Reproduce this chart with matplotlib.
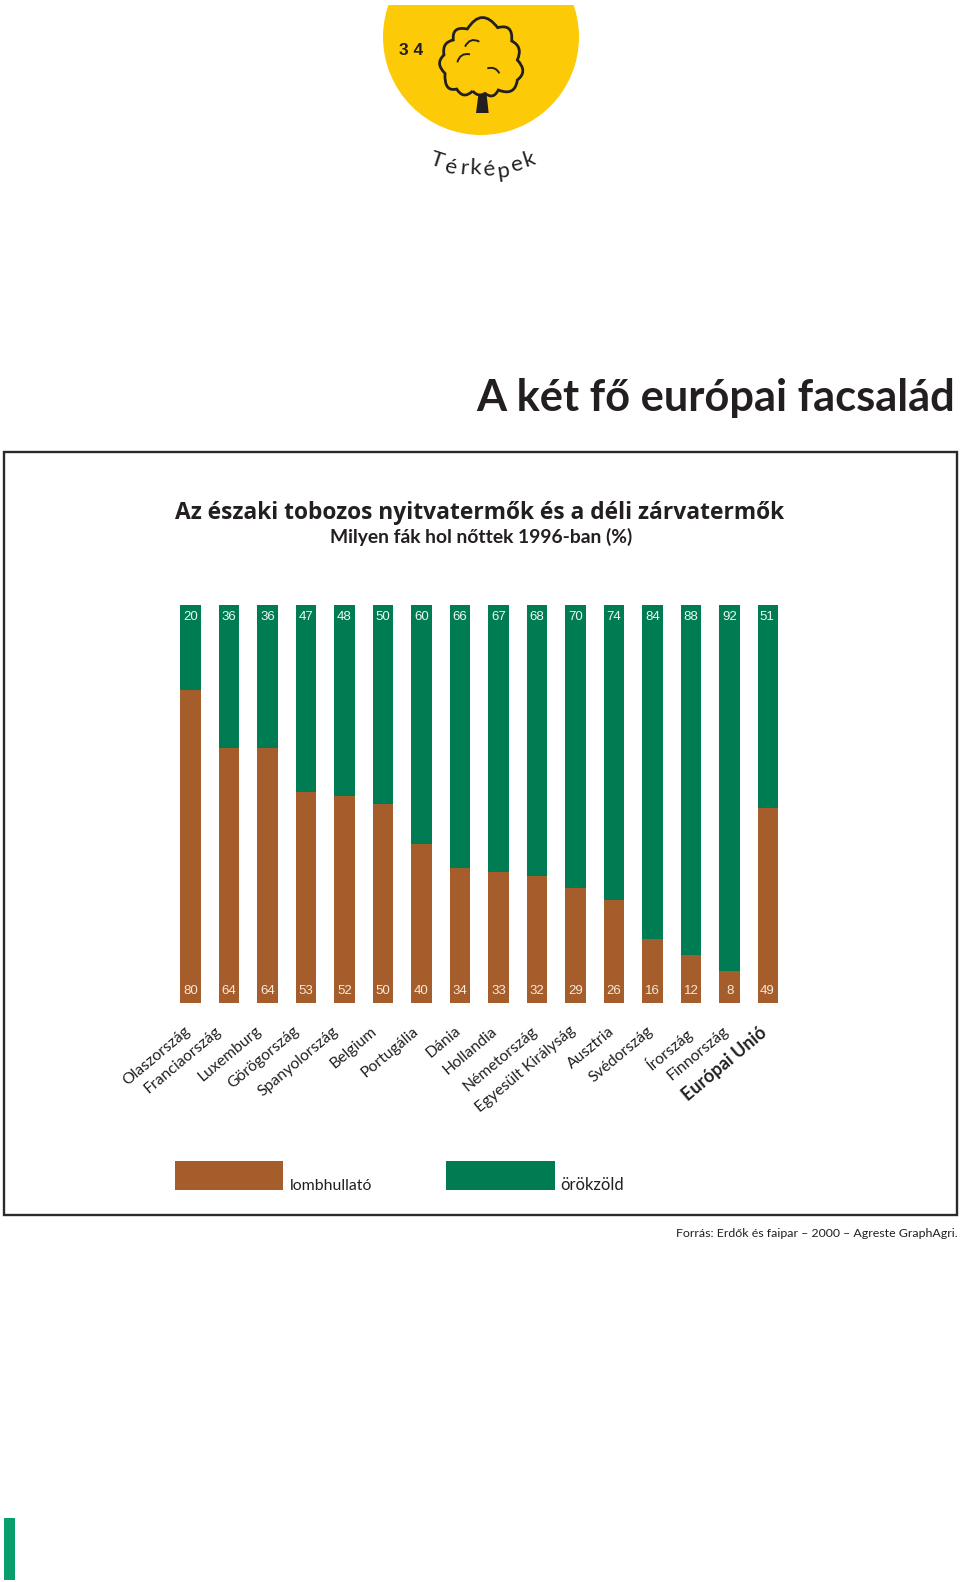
# import modules
import numpy as np
import matplotlib
matplotlib.use('Agg')
import matplotlib.pyplot as plt
from matplotlib.patches import Circle, PathPatch, Polygon, Rectangle
from matplotlib.path import Path
from matplotlib.transforms import ScaledTranslation

plt.rcParams['font.family'] = ['Lato', 'DejaVu Sans']

# chart values
countries = ['Olaszország', 'Franciaország', 'Luxemburg', 'Görögország', 'Spanyolország',
             'Belgium', 'Portugália', 'Dánia', 'Hollandia', 'Németország', 'Egyesült Királyság',
             'Ausztria', 'Svédország', 'Írország', 'Finnország', 'Európai Unió']
deciduous = [80, 64, 64, 53, 52, 50, 40, 34, 33, 32, 29, 26, 16, 12, 8, 49]
evergreen = [20, 36, 36, 47, 48, 50, 60, 66, 67, 68, 70, 74, 84, 88, 92, 51]
# height of the brown part as drawn in the picture (first bar is drawn short of its label)
deciduous_drawn = [78.6, 64, 64, 53, 52, 50, 40, 34, 33, 32, 29, 26, 16, 12, 8, 49]

BROWN = '#a65d2c'
GREEN = '#007c52'
INK = '#231f20'

fig = plt.figure(figsize=(9.6, 15.82), dpi=100, facecolor='white')

# page layer in pixel coordinates
page = fig.add_axes([0, 0, 1, 1])
page.set_xlim(0, 960)
page.set_ylim(1582, 0)
page.axis('off')

# yellow badge, cut off at the top
badge = Circle((481, 37), 98, facecolor='#fdca08', edgecolor='none')
page.add_patch(badge)
badge.set_clip_path(Rectangle((370, 5), 220, 140, transform=page.transData))
page.text(411, 50.5, '3 4', family='Liberation Sans', fontweight='bold', fontsize=12.5,
          color=INK, ha='center', va='center')

# tree
def tree(x, y):
    return (430 + x / 3, 5 + y / 3)

crown = [(128, 258), (100, 285, 80, 252), (42, 262, 45, 205), (14, 175, 42, 150),
         (35, 112, 70, 105), (65, 62, 112, 72), (155, 5, 203, 68), (250, 55, 245, 108),
         (280, 125, 262, 165), (295, 200, 262, 225), (255, 275, 205, 255), (190, 285, 165, 265),
         (145, 278, 128, 258)]
verts = [tree(*crown[0])]
codes = [Path.MOVETO]
for c in crown[1:]:
    verts += [tree(c[0], c[1]), tree(c[2], c[3])]
    codes += [Path.CURVE3, Path.CURVE3]
page.add_patch(PathPatch(Path(verts, codes), facecolor='none', edgecolor=INK, lw=2))
for a, b, c in [((105, 125), (120, 95), (148, 110)), ((82, 172), (90, 142), (120, 148)),
                ((172, 190), (197, 183), (208, 205))]:
    page.add_patch(PathPatch(Path([tree(*a), tree(*b), tree(*c)],
                                  [Path.MOVETO, Path.CURVE3, Path.CURVE3]),
                             facecolor='none', edgecolor=INK, lw=1.4))
page.add_patch(Polygon([tree(145, 270), tree(170, 270), tree(176, 324), tree(138, 324)],
                       facecolor=INK, edgecolor='none'))

# curved word under the badge
word = [('T', 437, 160, -18), ('é', 450, 167, -12), ('r', 464, 168, -6), ('k', 475, 168, -2),
        ('é', 489, 170, 4), ('p', 503, 171, 8), ('e', 516, 165, 14), ('k', 529, 160, 18)]
for ch, x, y, rot in word:
    page.text(x, y, ch, fontsize=16, color=INK, rotation=rot, ha='center', va='center')

page.text(955, 410.5, 'A két fő európai facsalád', fontsize=31.2, fontweight='bold',
          color=INK, ha='right', va='baseline')

# frame
page.add_patch(Rectangle((4, 452), 952.5, 763, facecolor='none', edgecolor='#2a2a2a', lw=1.7))

page.text(480, 519, 'Az északi tobozos nyitvatermők és a déli zárvatermők', family='Open Sans',
          fontsize=16.4, fontweight='bold', color=INK, ha='center', va='baseline')
page.text(481, 543, 'Milyen fák hol nőttek 1996-ban (%)', fontsize=13.9, fontweight='bold',
          color=INK, ha='center', va='baseline')

# legend
page.add_patch(Rectangle((174.5, 1161), 108.5, 29, facecolor=BROWN, edgecolor='none'))
page.add_patch(Rectangle((446, 1161), 108.5, 29, facecolor=GREEN, edgecolor='none'))
page.text(290, 1190.5, 'lombhullató', fontsize=11.4, color=INK, ha='left', va='baseline')
page.text(560, 1190.5, 'örökzöld', fontsize=12, color=INK, ha='left', va='baseline')

page.text(958, 1237, 'Forrás: Erdők és faipar – 2000 – Agreste GraphAgri.', fontsize=8.9,
          color=INK, ha='right', va='baseline')

# green strip bottom left
page.add_patch(Rectangle((3.5, 1518), 11, 62, facecolor='#0a9e6c', edgecolor='none'))

# bars
ax = fig.add_axes([170 / 960, 1 - 1003 / 1582, 620 / 960, 398 / 1582])
ax.patch.set_alpha(0)
x = np.arange(len(countries))
drawn = np.array(deciduous_drawn)
ax.bar(x, drawn, width=0.53, color=BROWN)
ax.bar(x, 100 - drawn, width=0.53, bottom=drawn, color=GREEN)
ax.set_xlim(-0.53, 15.566)
ax.set_ylim(0, 100)
ax.set_yticks([])
for s in ax.spines.values():
    s.set_visible(False)

for i in x:
    dx = -1.5 if i == len(x) - 1 else 0
    ax.annotate(str(evergreen[i]), (i, 100), xytext=(dx, -12), textcoords='offset pixels',
                family='Liberation Sans', fontsize=9.5, color='#f2f7f2', ha='center', va='center')
    ax.annotate(str(deciduous[i]), (i, 0), xytext=(dx, 12), textcoords='offset pixels',
                family='Liberation Sans', fontsize=9.5, color='#f7e9d8', ha='center', va='center')

ax.set_xticks(x)
ax.set_xticklabels(countries, rotation=40, ha='right', va='top', rotation_mode='anchor',
                   fontsize=11.3, color=INK)
ax.tick_params(axis='x', length=0, pad=15)

# the labels sit unevenly in the picture, nudge them one by one (pixels)
nudge = [-7, -14, -12, -13, -13, -13, -9, -6, -8, -6, -6, -6, -6, -6, -7, -9]
labels = ax.get_xticklabels()
for lab, n in zip(labels, nudge):
    lab.set_transform(lab.get_transform() + ScaledTranslation(n / 100, 0, fig.dpi_scale_trans))
labels[-1].set_fontweight('bold')
labels[-1].set_fontsize(13)

fig.savefig('out.png', dpi=100)
